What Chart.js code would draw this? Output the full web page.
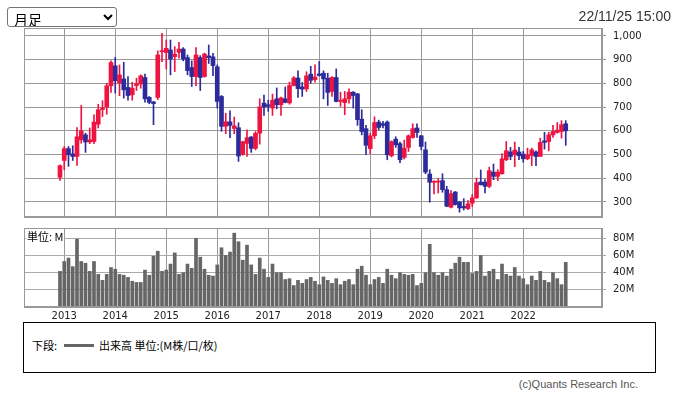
<!DOCTYPE html>
<html><head><meta charset="utf-8">
<script src="https://cdn.jsdelivr.net/npm/chart.js@4/dist/chart.umd.min.js"></script>
<style>
body{margin:0;width:677px;height:396px;position:relative;background:#fff;overflow:hidden;font-family:'Noto Sans CJK JP',sans-serif}
canvas{position:absolute;left:0}
#c1{top:0}
#c2{top:222px}
#sel{position:absolute;left:7px;top:7px;width:110px;height:20px;font-size:14px;font-family:'Noto Sans CJK JP',sans-serif;padding:0 2px;background:#fff;border:1px solid #767676;border-radius:3px;color:#000}
#date{position:absolute;right:6px;top:8px;font:14px 'Liberation Sans',sans-serif;color:#333}
#unit{position:absolute;left:26px;top:230px;font-size:11px;line-height:13px;background:#fff;padding:0 1px;color:#000}
#legend{position:absolute;left:23px;top:322px;width:633px;height:51px;border:1px solid #000;box-sizing:border-box;font-size:11px;color:#000}
#legend .t1{position:absolute;left:8px;top:15px;line-height:14px}
#legend .ln{position:absolute;left:40px;top:21px;width:30px;height:3px;background:#666}
#legend .t2{position:absolute;left:75px;top:15px;line-height:14px}
#copy{position:absolute;right:39px;top:378px;font:11px 'Liberation Sans',sans-serif;color:#555}
</style></head><body>
<canvas id="c1" width="677" height="222"></canvas>
<canvas id="c2" width="677" height="100"></canvas>
<select id="sel"><option>月足</option></select>
<div id="date">22/11/25 15:00</div>
<div id="unit">単位: M</div>
<div id="legend"><span class="t1">下段: </span><span class="ln"></span><span class="t2">出来高 単位:(M株/口/枚)</span></div>
<div id="copy">(c)Quants Research Inc.</div>
<script>
const months = [
'2012-12',
'2013-01','2013-02','2013-03','2013-04','2013-05','2013-06','2013-07','2013-08','2013-09','2013-10','2013-11','2013-12',
'2014-01','2014-02','2014-03','2014-04','2014-05','2014-06','2014-07','2014-08','2014-09','2014-10','2014-11','2014-12',
'2015-01','2015-02','2015-03','2015-04','2015-05','2015-06','2015-07','2015-08','2015-09','2015-10','2015-11','2015-12',
'2016-01','2016-02','2016-03','2016-04','2016-05','2016-06','2016-07','2016-08','2016-09','2016-10','2016-11','2016-12',
'2017-01','2017-02','2017-03','2017-04','2017-05','2017-06','2017-07','2017-08','2017-09','2017-10','2017-11','2017-12',
'2018-01','2018-02','2018-03','2018-04','2018-05','2018-06','2018-07','2018-08','2018-09','2018-10','2018-11','2018-12',
'2019-01','2019-02','2019-03','2019-04','2019-05','2019-06','2019-07','2019-08','2019-09','2019-10','2019-11','2019-12',
'2020-01','2020-02','2020-03','2020-04','2020-05','2020-06','2020-07','2020-08','2020-09','2020-10','2020-11','2020-12',
'2021-01','2021-02','2021-03','2021-04','2021-05','2021-06','2021-07','2021-08','2021-09','2021-10','2021-11','2021-12',
'2022-01','2022-02','2022-03','2022-04','2022-05','2022-06','2022-07','2022-08','2022-09','2022-10','2022-11'];

const openP = [404,
475,525,503,492,562,583,553,555,628,690,700,790,
874,801,819,783,752,791,798,825,741,722,741,934,
930,941,913,931,945,909,867,829,909,829,916,912,
870,745,619,638,610,613,501,547,574,526,590,717,
710,696,735,710,735,718,791,823,785,777,839,816,
840,843,822,766,825,724,719,735,763,756,649,609,
525,579,637,630,637,495,565,546,488,530,572,612,
579,520,418,383,384,390,352,278,342,299,281,272,
295,317,384,384,366,426,408,419,478,511,499,511,
502,482,496,511,492,558,555,583,593,597,630];
const highP = [457,
534,534,537,614,707,590,612,668,712,727,801,895,
910,878,889,829,805,822,836,839,745,724,937,1011,
983,983,955,973,951,920,895,951,917,928,962,927,
878,749,674,684,658,634,556,604,576,597,735,751,
729,755,781,742,785,806,829,853,804,849,872,878,
892,853,843,829,861,763,766,777,766,758,689,623,
590,659,645,640,642,558,575,553,561,583,630,630,
581,553,436,390,398,419,366,348,344,303,314,306,
331,401,435,394,447,460,436,504,555,530,553,530,
513,527,527,516,569,594,594,623,635,643,643];
const lowP = [391,
436,450,475,454,548,509,546,546,612,660,670,762,
759,748,738,729,729,770,780,721,714,626,732,892,
861,836,850,906,895,836,787,790,770,826,884,833,
696,598,588,571,588,471,497,492,509,520,544,665,
682,665,693,665,718,712,789,741,745,766,801,805,
831,735,707,745,722,703,668,717,696,623,583,499,
504,567,604,612,478,490,530,466,481,513,569,572,
520,419,299,334,338,341,280,275,287,257,266,268,
281,315,371,338,360,394,390,417,474,478,449,478,
468,478,453,453,492,523,516,572,590,569,539];
const closeP = [453,
525,499,492,575,600,553,562,637,689,697,790,888,
811,836,773,749,780,799,832,735,720,715,920,937,
948,903,923,945,903,854,829,920,825,924,909,875,
724,619,638,623,621,494,554,571,526,590,701,700,
703,729,710,739,720,791,823,778,776,832,813,827,
833,819,762,825,724,729,735,763,749,647,597,539,
579,635,614,623,499,555,541,478,527,579,609,593,
534,426,383,387,387,352,282,335,289,275,275,292,
317,381,373,366,432,408,426,482,516,492,519,495,
482,499,520,492,551,551,583,597,603,626,600];
const volumeM = [41.5,
53,57,47,79,53,51,41.5,53,38,31,38,46,
44,38,37,34.5,30,28.6,28.6,43,37,59,65,41.5,
43,50,63,38,40,50,45,80,58,44,37,36,
49,69,60,64,86,76,54.5,72,49,38,57,44,
34.5,50,40,40,32,33,25,31,27.5,32,34.5,30,
26,35,31,27.5,33,26,30,32,26,44,47.5,37,
26,32,34.5,27.5,44,37,33,40,38,37,38,25,
27.5,40,73,40,37,40,36,44,51,58,52,52,
39,41.5,60,36,41.5,44,32,50,38,36,46,36,
33,26,36,31,41.5,31,28.6,40,33,26,52];

const yearLabels = ['2013','2014','2015','2016','2017','2018','2019','2020','2021','2022'];
const priceTicks = [300,400,500,600,700,800,900,1000];
const volumeTicks = [20,40,60,80];

const UP = '#ee1442', DOWN = '#2c2b9b', GRID = '#999';
const candleColors = months.map((m,i)=> closeP[i] >= openP[i] ? UP : DOWN);
const yearIndex = yearLabels.map(y => months.indexOf(y + '-01'));

const X_MIN = -8.47, X_MAX = 127.53;
const frame = {id:'frame', afterDraw(c){const {ctx, chartArea:a}=c; ctx.save(); ctx.strokeStyle=GRID; ctx.lineWidth=1;
  ctx.strokeRect(Math.round(a.left)+0.5, Math.round(a.top)+0.5, Math.round(a.right)-Math.round(a.left)-1, Math.round(a.bottom)-Math.round(a.top)-1); ctx.restore();}};

function xScale(showLabels){
  return {type:'linear', min:X_MIN, max:X_MAX, offset:false,
    grid:{color:GRID, offset:false, drawTicks:false},
    border:{display:true, color:GRID},
    afterBuildTicks(s){ s.ticks = yearIndex.map(v=>({value:v})); },
    afterFit(s){ s.height = showLabels ? 15 : 0; s.paddingLeft = 0; s.paddingRight = 0; },
    ticks:{display:showLabels, autoSkip:false, maxRotation:0, padding:3, color:'#222',
      font:{family:'DejaVu Sans', size:10},
      callback:(v,i)=> yearLabels[i]}};
}
function yFit(s){ s.width = 75; s.paddingTop = 0; s.paddingBottom = 0; }
Chart.defaults.font.family = 'DejaVu Sans';

new Chart(document.getElementById('c1'), {
  type:'bar',
  data:{datasets:[
    {data: months.map((m,i)=>({x:i, y:[lowP[i], highP[i]]})), backgroundColor:candleColors, barThickness:1, grouped:false, order:2},
    {data: months.map((m,i)=>({x:i, y:[openP[i], closeP[i]]})), backgroundColor:candleColors, barThickness:4, minBarLength:1, grouped:false, order:1}
  ]},
  options:{responsive:false, animation:false, events:[],
    layout:{padding:{left:24, top:28, right:0, bottom:5}},
    plugins:{legend:{display:false}, tooltip:{enabled:false}},
    scales:{
      x: xScale(false),
      y:{position:'right', min:236.6, max:1033.7,
        grid:{color:GRID, tickLength:4},
        border:{display:true, color:GRID},
        afterBuildTicks(s){ s.ticks = priceTicks.map(v=>({value:v})); },
        afterFit: yFit,
        ticks:{padding:7, color:'#222', font:{family:'DejaVu Sans', size:10},
          callback:v=> v.toLocaleString('en-US')}}
    }},
  plugins:[frame]
});

new Chart(document.getElementById('c2'), {
  type:'bar',
  data:{datasets:[
    {data: months.map((m,i)=>({x:i, y:volumeM[i]})), backgroundColor:'#666', barThickness:3}
  ]},
  options:{responsive:false, animation:false, events:[],
    layout:{padding:{left:24, top:6, right:0, bottom:0}},
    plugins:{legend:{display:false}, tooltip:{enabled:false}},
    scales:{
      x: xScale(true),
      y:{position:'right', min:0, max:92,
        grid:{color:'#aaa', tickLength:4},
        border:{display:true, color:GRID},
        afterBuildTicks(s){ s.ticks = volumeTicks.map(v=>({value:v})); },
        afterFit: yFit,
        ticks:{padding:7, color:'#222', font:{family:'DejaVu Sans', size:10},
          callback:v=> v + 'M'}}
    }},
  plugins:[frame]
});
</script>
</body></html>
